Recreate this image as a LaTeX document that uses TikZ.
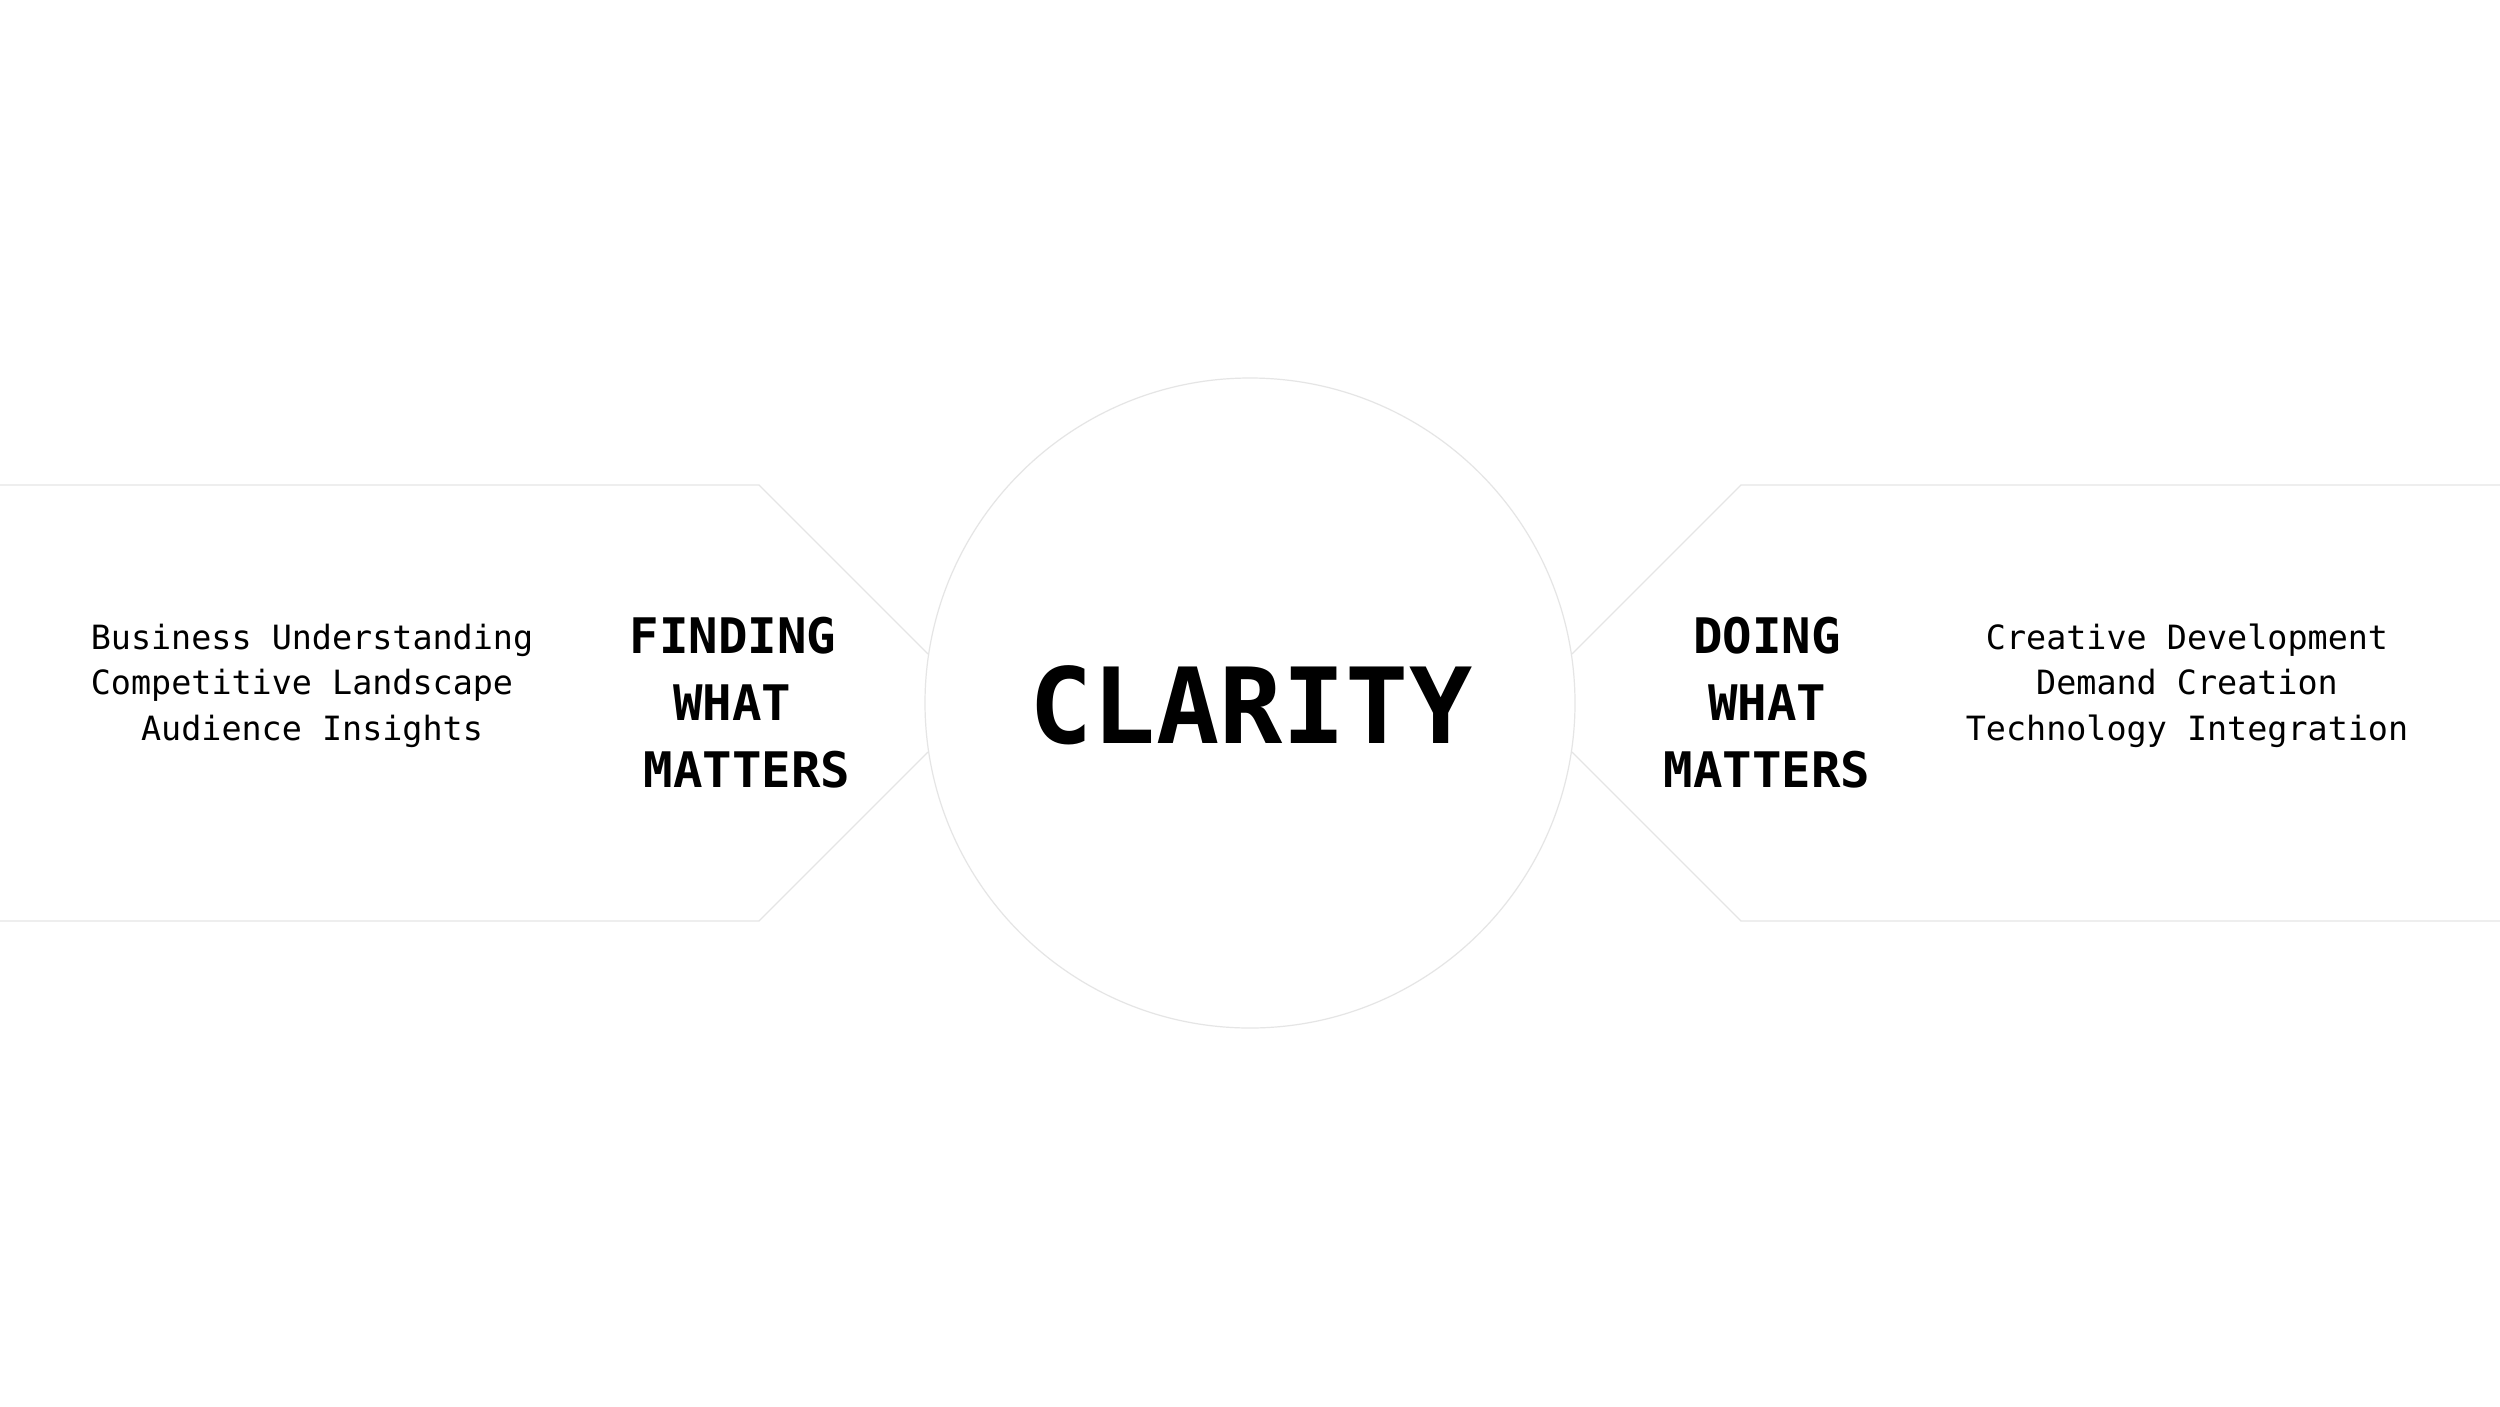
\documentclass[tikz,border=0pt]{standalone}
\usepackage{fontspec}
\newfontfamily\monofont{DejaVu Sans Mono}
\begin{document}
\begin{tikzpicture}[x=1pt,y=-1pt,
  faint/.style={draw=black!10, line width=1.2pt, line join=miter},
  listtext/.style={anchor=base, inner sep=0pt, font=\monofont\fontsize{33.4}{40}\selectfont},
  titletext/.style={anchor=base, inner sep=0pt, font=\monofont\bfseries\fontsize{49}{56}\selectfont},
  bigtext/.style={anchor=base, inner sep=0pt, font=\monofont\bfseries\fontsize{105}{120}\selectfont}]
\useasboundingbox[fill=white] (0,0) rectangle (2500,1406);
% central circle
\node[circle, faint, minimum size=650pt, inner sep=0pt] (core) at (1250,703) {};
% left band
\coordinate (lt0) at (0,485);
\coordinate (lt1) at (759,485);
\coordinate (lt2) at (928,654);
\coordinate (lb2) at (928,752);
\coordinate (lb1) at (759,921);
\coordinate (lb0) at (0,921);
\draw[faint] (lt0) -- (lt1) -- (lt2);
\draw[faint] (lb2) -- (lb1) -- (lb0);
% right band
\coordinate (rt0) at (2500,485);
\coordinate (rt1) at (1741,485);
\coordinate (rt2) at (1572,654);
\coordinate (rb2) at (1572,752);
\coordinate (rb1) at (1741,921);
\coordinate (rb0) at (2500,921);
\draw[faint] (rt0) -- (rt1) -- (rt2);
\draw[faint] (rb2) -- (rb1) -- (rb0);
% centre word
\node[bigtext] (clarity) at (1251,743) {CLARITY};
% left titles
\node[titletext] (fl1) at (733,653) {FINDING};
\node[titletext] (fl2) at (732,720) {WHAT};
\node[titletext] (fl3) at (747,787) {MATTERS};
% right titles
\node[titletext] (dr1) at (1767,653) {DOING};
\node[titletext] (dr2) at (1767,720) {WHAT};
\node[titletext] (dr3) at (1767,787) {MATTERS};
% left list
\node[listtext] (ll1) at (312,649) {Business Understanding};
\node[listtext] (ll2) at (302,694.5) {Competitive Landscape};
\node[listtext] (ll3) at (312,740) {Audience Insights};
% right list
\node[listtext] (rl1) at (2187,649) {Creative Development};
\node[listtext] (rl2) at (2187,694.5) {Demand Creation};
\node[listtext] (rl3) at (2187,740) {Technology Integration};
\end{tikzpicture}
\end{document}
